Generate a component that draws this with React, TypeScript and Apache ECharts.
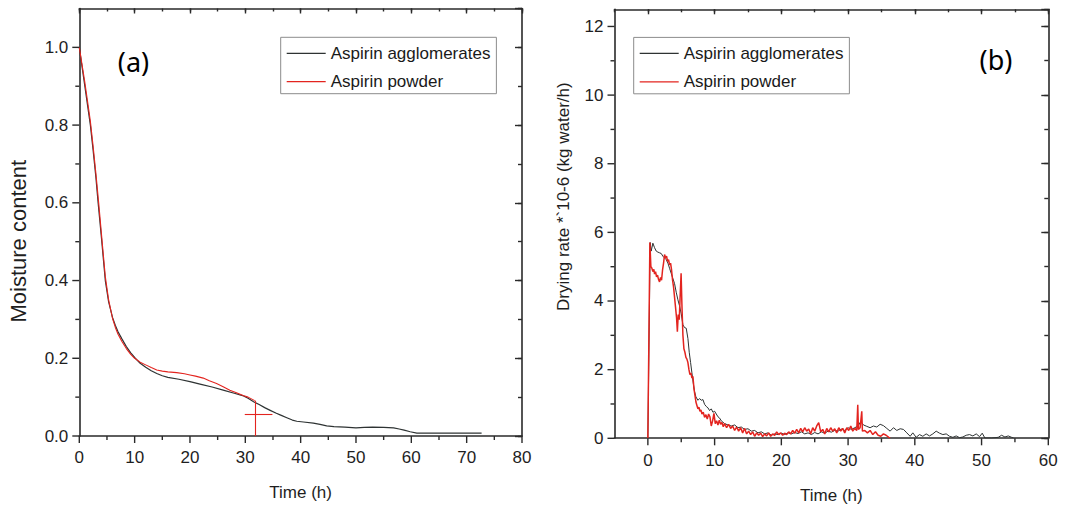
import React, { useEffect, useRef } from "react";
import * as echarts from "echarts";

// ---------- data ----------
const seriesNames = ["Aspirin agglomerates", "Aspirin powder"];

// (a) moisture content vs time (h)
const aggMoisture: [number, number][] = [
  [0, 1.0], [0.5, 0.95], [1, 0.9], [1.5, 0.85], [2, 0.8], [2.5, 0.735], [3, 0.665], [3.4, 0.6],
  [4, 0.51], [4.7, 0.4], [5.3, 0.345], [6, 0.305], [6.5, 0.285], [7, 0.268], [7.7, 0.25],
  [8.5, 0.23], [9.3, 0.214], [10, 0.202], [11, 0.187], [12, 0.177], [13, 0.168], [14, 0.161],
  [15, 0.155], [16, 0.151], [18, 0.146], [20, 0.14], [22, 0.133], [24, 0.126], [26, 0.118],
  [28, 0.11], [29.5, 0.104], [30.5, 0.097], [31.5, 0.088], [32.5, 0.081], [33.5, 0.073],
  [34.5, 0.066], [35.5, 0.059], [36.5, 0.053], [37.5, 0.047], [38.5, 0.041], [39.3, 0.038],
  [40.5, 0.036], [42.3, 0.033], [43.5, 0.03], [44.7, 0.026], [46, 0.024], [48, 0.023],
  [50, 0.021], [51.5, 0.022], [53, 0.023], [55, 0.022], [56.8, 0.021], [57.8, 0.018],
  [58.7, 0.015], [59.8, 0.011], [61, 0.0075], [62, 0.0075], [72.7, 0.0075],
];
const powderMoisture: [number, number][] = [
  [0, 1.0], [0.5, 0.955], [1, 0.91], [1.5, 0.86], [2, 0.81], [2.5, 0.745], [3, 0.675], [3.5, 0.6],
  [4, 0.52], [4.7, 0.41], [5.3, 0.35], [6, 0.303], [6.5, 0.28], [7, 0.262], [7.7, 0.243],
  [8.5, 0.225], [9.3, 0.21], [10, 0.2], [11, 0.19], [12, 0.183], [13, 0.176], [14, 0.17],
  [15, 0.167], [16, 0.165], [17.6, 0.163], [19, 0.16], [20, 0.157], [21, 0.154], [22.4, 0.149],
  [23.5, 0.142], [24.8, 0.135], [26, 0.127], [27.2, 0.118], [28.4, 0.111], [29.6, 0.104],
  [30.5, 0.1], [31.7, 0.091],
];
const powderMarkH: [number, number][] = [[29.9, 0.057], [34.9, 0.057]];
const powderMarkV: [number, number][] = [[31.8, 0.091], [31.8, 0]];

// (b) drying rate *10^-6 (kg water/h) vs time (h)
const aggRate: [number, number][] = [
  [0, 0], [0.1, 0], [0.35, 5.7], [0.5, 5.45], [0.75, 5.68], [1.0, 5.55], [1.25, 5.45], [1.5, 5.42],
  [1.75, 5.4], [2.0, 5.38], [2.25, 5.3], [2.5, 5.25], [2.75, 5.2], [3.0, 5.1], [3.25, 4.95],
  [3.5, 4.8], [3.75, 4.65], [4.0, 4.5], [4.25, 4.25], [4.5, 4.03], [4.75, 3.85], [5.0, 3.62],
  [5.25, 3.3], [5.5, 3.22], [5.75, 3.2], [6.0, 2.9], [6.2, 2.5], [6.4, 2.2], [6.6, 1.9], [6.8, 1.6],
  [7.0, 1.35], [7.2, 1.2], [7.5, 1.1], [7.75, 1.15], [8.0, 1.1], [8.25, 1.12], [8.5, 0.98],
  [8.75, 0.92], [9.0, 0.88], [9.25, 0.8], [9.5, 0.85], [9.75, 0.75], [10.0, 0.78], [10.25, 0.7],
  [10.5, 0.62], [10.75, 0.58], [11.0, 0.5], [11.5, 0.42], [12.0, 0.38], [12.5, 0.35], [13.0, 0.38],
  [13.5, 0.3], [14.0, 0.32], [14.5, 0.25], [15.0, 0.27], [15.5, 0.2], [16.0, 0.22], [16.5, 0.15],
  [17.0, 0.18], [17.5, 0.12], [18.0, 0.15], [18.5, 0.08], [19.0, 0.12], [19.5, 0.1], [20.0, 0.14],
  [20.5, 0.1], [21.0, 0.15], [21.5, 0.12], [22.0, 0.16], [22.5, 0.13], [23.0, 0.18], [23.5, 0.12],
  [24.0, 0.15], [24.5, 0.1], [25.0, 0.16], [25.5, 0.12], [26.0, 0.18], [26.5, 0.14], [27.0, 0.2],
  [27.5, 0.17], [28.0, 0.22], [28.5, 0.2], [29.0, 0.26], [29.5, 0.22], [30.0, 0.3], [30.5, 0.25],
  [31.0, 0.3], [31.5, 0.35], [31.9, 0.48], [32.3, 0.38], [32.8, 0.34], [33.3, 0.3], [33.8, 0.35],
  [34.3, 0.32], [34.8, 0.4], [35.3, 0.36], [35.8, 0.28], [36.3, 0.2], [36.8, 0.3], [37.3, 0.22],
  [37.8, 0.27], [38.3, 0.25], [38.8, 0.15], [39.3, 0.05], [39.7, 0.15], [40.2, 0.02], [40.7, 0.1],
  [41.2, 0.05], [41.7, 0.12], [42.2, 0.06], [42.7, 0.12], [43.2, 0.2], [43.7, 0.14], [44.2, 0.1],
  [44.7, 0.12], [45.2, 0.05], [45.7, 0.02], [46.2, 0.06], [46.7, 0.01], [47.2, 0.03], [47.7, 0.08],
  [48.2, 0.1], [48.7, 0.06], [49.2, 0.12], [49.7, 0.04], [50.1, 0.14], [50.5, 0.0], [51.5, 0.0],
  [52.5, 0.02], [53.0, 0.08], [53.5, 0.03], [54.0, 0.06], [54.5, 0.02], [54.8, 0.0],
];
const powderRate: [number, number][] = [
  [0, 0], [0.1, 0], [0.3, 5.7], [0.45, 5.0], [0.6, 4.95], [0.75, 4.85], [0.9, 4.92], [1.0, 4.78],
  [1.15, 4.85], [1.3, 4.7], [1.45, 4.75], [1.6, 4.62], [1.75, 4.55], [1.9, 4.68], [2.05, 4.6],
  [2.2, 4.9], [2.35, 5.1], [2.5, 5.35], [2.65, 5.25], [2.8, 5.3], [2.95, 5.15], [3.1, 5.2],
  [3.25, 5.05], [3.4, 5.1], [3.55, 4.9], [3.7, 4.6], [3.85, 4.4], [4.0, 4.1], [4.15, 3.8],
  [4.3, 3.5], [4.42, 3.1], [4.55, 3.6], [4.7, 3.45], [4.85, 4.2], [4.98, 4.8], [5.1, 3.9],
  [5.25, 3.0], [5.4, 2.6], [5.55, 2.5], [5.7, 2.35], [5.85, 2.3], [6.0, 2.2], [6.15, 2.0],
  [6.3, 1.85], [6.45, 1.9], [6.6, 1.75], [6.75, 1.8], [6.9, 1.45], [7.05, 1.25], [7.2, 1.05],
  [7.35, 0.95], [7.5, 0.85], [7.65, 0.9], [7.8, 0.78], [7.95, 0.82], [8.1, 0.7], [8.3, 0.75],
  [8.5, 0.6], [8.7, 0.68], [8.9, 0.55], [9.1, 0.7], [9.3, 0.62], [9.5, 0.35], [9.7, 0.5],
  [9.9, 0.72], [10.1, 0.42], [10.3, 0.5], [10.5, 0.38], [10.7, 0.52], [10.9, 0.4], [11.1, 0.45],
  [11.3, 0.33], [11.5, 0.42], [11.8, 0.3], [12.1, 0.4], [12.4, 0.28], [12.7, 0.35], [13.0, 0.22],
  [13.3, 0.32], [13.6, 0.2], [13.9, 0.3], [14.2, 0.15], [14.5, 0.28], [14.8, 0.12], [15.1, 0.2],
  [15.4, 0.1], [15.7, 0.18], [16.0, 0.05], [16.3, 0.15], [16.6, 0.08], [16.9, 0.14], [17.2, 0.04],
  [17.5, 0.12], [17.8, 0.06], [18.1, 0.15], [18.4, 0.05], [18.7, 0.12], [19.0, 0.08], [19.3, 0.18],
  [19.6, 0.1], [19.9, 0.15], [20.2, 0.08], [20.5, 0.14], [20.8, 0.1], [21.1, 0.18], [21.4, 0.12],
  [21.7, 0.22], [22.0, 0.14], [22.3, 0.25], [22.6, 0.15], [22.9, 0.28], [23.2, 0.18], [23.5, 0.3],
  [23.8, 0.2], [24.1, 0.26], [24.4, 0.12], [24.7, 0.3], [25.0, 0.2], [25.3, 0.35], [25.6, 0.45],
  [25.9, 0.18], [26.2, 0.25], [26.5, 0.12], [26.8, 0.28], [27.1, 0.18], [27.4, 0.3], [27.7, 0.2],
  [28.0, 0.27], [28.3, 0.15], [28.6, 0.3], [28.9, 0.2], [29.2, 0.28], [29.5, 0.15], [29.8, 0.3],
  [30.1, 0.22], [30.4, 0.35], [30.7, 0.2], [31.0, 0.28], [31.3, 0.22], [31.45, 0.97], [31.55, 0.25],
  [31.8, 0.3], [32.05, 0.78], [32.15, 0.2], [32.5, 0.22], [32.9, 0.15], [33.3, 0.22], [33.7, 0.1],
  [34.1, 0.18], [34.5, 0.08], [34.9, 0.05], [35.3, 0.12], [35.7, 0.08], [36.1, 0.02], [36.3, 0.0],
];

// axis ranges / tick steps
const aXRange = [0, 80], aXMajor = 10, aXMinor = 5;
const aYRange = [0, 1.1], aYMajor = 0.2, aYMinor = 0.1;
const bXRange = [-5, 60], bXMajorRange = [0, 60], bXMajor = 10, bXMinor = 5;
const bYRange = [0, 12.5], bYMajor = 2, bYMinor = 1;
// outward tick values (bottom / left frames)
const aXTickMajor = [0, 10, 20, 30, 40, 50, 60, 70, 80];
const aXTickMinor = [5, 15, 25, 35, 45, 55, 65, 75];
const aYTickMajor = [0, 0.2, 0.4, 0.6, 0.8, 1.0];
const aYTickMinor = [0.1, 0.3, 0.5, 0.7, 0.9];
const bXTickMajor = [0, 10, 20, 30, 40, 50, 60];
const bXTickMinor = [5, 15, 25, 35, 45, 55];
const bYTickMajor = [0, 2, 4, 6, 8, 10, 12];
const bYTickMinor = [1, 3, 5, 7, 9, 11];

// ---------- styles ----------
const SANS = "'Liberation Sans', Arial, sans-serif";
const AXIS_COLOR = "#2a2a2a";
const TEXT_COLOR = "#1e1e1e";
const BLACK = "#2e3333";
const RED = "#e3241f";
const MAJOR_LEN = 7;
const MINOR_LEN = 4;

// grid geometry (layout)
const A_GRID = { left: 79.3, top: 8.5, width: 442.7, height: 427.5 };
const B_GRID = { left: 614.5, top: 9.3, width: 433.8, height: 429 };

const tickStyle = { color: AXIS_COLOR, width: 1.4 };
const noLabel = { show: false };

type AxOpts = {
  line?: boolean;
  tickLen: number;
  inside: boolean;
  showTick?: boolean;
  label?: any;
  name?: string;
  nameGap?: number;
  nameStyle?: any;
};

function axis(gridIndex: number, range: number[], interval: number, position: string, opts: AxOpts) {
  return {
    type: "value",
    gridIndex,
    min: range[0],
    max: range[1],
    interval,
    position,
    splitLine: { show: false },
    axisLine: { show: !!opts.line, onZero: false, lineStyle: { color: AXIS_COLOR, width: 1.6 } },
    axisTick: { show: opts.showTick !== false, inside: opts.inside, length: opts.tickLen, lineStyle: tickStyle },
    axisLabel: opts.label ?? noLabel,
    name: opts.name ?? "",
    nameLocation: "middle",
    nameGap: opts.nameGap ?? 15,
    nameTextStyle: opts.nameStyle ?? {},
  };
}

function labelStyle(fmt: (v: number) => string, hide: (v: number) => boolean, margin: number) {
  return {
    show: true,
    margin,
    fontFamily: SANS,
    fontSize: 17,
    color: TEXT_COLOR,
    formatter: (v: number) => (hide(v) ? "" : fmt(v)),
  };
}

// outward ticks for the bottom and left frames, placed along the same linear scales as the axes
function frameTicks(
  g: { left: number; top: number; width: number; height: number },
  xRange: number[],
  yRange: number[],
  xMaj: number[],
  xMin: number[],
  yMaj: number[],
  yMin: number[]
) {
  const sx = (v: number) => g.left + ((v - xRange[0]) / (xRange[1] - xRange[0])) * g.width;
  const sy = (v: number) => g.top + g.height - ((v - yRange[0]) / (yRange[1] - yRange[0])) * g.height;
  const bottom = g.top + g.height;
  const left = g.left;
  const mk = (x1: number, y1: number, x2: number, y2: number) => ({
    type: "line",
    silent: true,
    z: 100,
    shape: { x1, y1, x2, y2 },
    style: { stroke: AXIS_COLOR, lineWidth: 1.4 },
  });
  return [
    ...xMaj.map((v) => mk(sx(v), bottom, sx(v), bottom + MAJOR_LEN)),
    ...xMin.map((v) => mk(sx(v), bottom, sx(v), bottom + MINOR_LEN)),
    ...yMaj.map((v) => mk(left, sy(v), left - MAJOR_LEN, sy(v))),
    ...yMin.map((v) => mk(left, sy(v), left - MINOR_LEN, sy(v))),
  ];
}

const legendBase = {
  orient: "vertical",
  data: seriesNames,
  icon: "rect",
  borderColor: "#8c8c8c",
  borderWidth: 1,
  padding: [5, 6, 1, 6],
  itemWidth: 39,
  itemHeight: 1.2,
  itemGap: 6.4,
  selectedMode: false,
  textStyle: { fontFamily: SANS, fontSize: 17, color: "#1a1a1a", lineHeight: 22 },
};

export default function App() {
  const ref = useRef<HTMLDivElement>(null);
  useEffect(() => {
    if (!ref.current) return;
    const chart = echarts.init(ref.current, undefined, { renderer: "svg" });
    const intFmt = (v: number) => String(Math.round(v));
    const dec1 = (v: number) => v.toFixed(1);
    const xNameStyle = { fontFamily: SANS, fontSize: 17, color: TEXT_COLOR };

    const zeroOffset = ((bXMajorRange[0] - bXRange[0]) / (bXRange[1] - bXRange[0])) * B_GRID.width;

    const xAxes = [
      // grid 0 : panel (a)  -> indexes 0,1,2
      axis(0, aXRange, aXMajor, "bottom", {
        line: true, tickLen: MAJOR_LEN, inside: false, showTick: false,
        label: labelStyle(intFmt, () => false, 13),
        name: "Time (h)", nameGap: 48, nameStyle: xNameStyle,
      }),
      axis(0, aXRange, aXMajor, "top", { line: true, tickLen: 5, inside: true }),
      axis(0, aXRange, aXMinor, "top", { tickLen: 3, inside: true }),
      // grid 1 : panel (b), full range -5..60  -> indexes 3,4
      axis(1, bXRange, bXMinor, "bottom", {
        line: true, tickLen: MINOR_LEN, inside: false, showTick: false,
        name: "Time (h)", nameGap: 49, nameStyle: xNameStyle,
      }),
      axis(1, bXRange, bXMinor, "top", { line: true, tickLen: 3, inside: true }),
      // grid 2 : panel (b) overlay 0..60 for labels + top major ticks -> indexes 5,6
      axis(2, bXMajorRange, bXMajor, "bottom", {
        tickLen: MAJOR_LEN, inside: false, showTick: false,
        label: labelStyle(intFmt, () => false, 14),
      }),
      axis(2, bXMajorRange, bXMajor, "top", { tickLen: 5, inside: true }),
    ];
    const yAxes = [
      // grid 0 -> indexes 0,1,2
      axis(0, aYRange, aYMajor, "left", {
        line: true, tickLen: MAJOR_LEN, inside: false, showTick: false,
        label: labelStyle(dec1, (v) => v > 1.05, 11),
        name: "Moisture content", nameGap: 50,
        nameStyle: { fontFamily: SANS, fontSize: 22, color: TEXT_COLOR, padding: [0, 38, 0, 0] },
      }),
      axis(0, aYRange, aYMajor, "right", { line: true, tickLen: MAJOR_LEN, inside: true }),
      axis(0, aYRange, aYMinor, "right", { tickLen: MINOR_LEN, inside: true }),
      // grid 1 -> indexes 3,4,5
      axis(1, bYRange, bYMajor, "left", {
        line: true, tickLen: MAJOR_LEN, inside: false, showTick: false,
        label: labelStyle(intFmt, (v) => v > 12.2, 11),
        name: "Drying rate *`10-6 (kg water/h)", nameGap: 43,
        nameStyle: { fontFamily: SANS, fontSize: 17, color: TEXT_COLOR, padding: [0, 0, 0, 54] },
      }),
      axis(1, bYRange, bYMajor, "right", { line: true, tickLen: MAJOR_LEN, inside: true }),
      axis(1, bYRange, bYMinor, "right", { tickLen: MINOR_LEN, inside: true }),
      // grid 2 (overlay, hidden) -> index 6
      { type: "value", gridIndex: 2, min: bYRange[0], max: bYRange[1], interval: bYMajor, show: false },
    ];

    const titleGraphics = [
      {
        type: "text",
        x: 133.5,
        y: 61,
        style: { text: "(a)", font: "27px 'Noto Sans', 'Open Sans', sans-serif", fill: "#000", align: "center", verticalAlign: "middle" },
      },
      {
        type: "text",
        x: 996,
        y: 59,
        style: { text: "(b)", font: "27px 'Noto Sans', 'Open Sans', sans-serif", fill: "#000", align: "center", verticalAlign: "middle" },
      },
    ];

    const tickGraphics = [
      ...frameTicks(A_GRID, aXRange, aYRange, aXTickMajor, aXTickMinor, aYTickMajor, aYTickMinor),
      ...frameTicks(B_GRID, bXRange, bYRange, bXTickMajor, bXTickMinor, bYTickMajor, bYTickMinor),
    ];

    chart.setOption({
      animation: false,
      backgroundColor: "#ffffff",
      grid: [
        { ...A_GRID, containLabel: false },
        { ...B_GRID, containLabel: false },
        { left: B_GRID.left + zeroOffset, top: B_GRID.top, width: B_GRID.width - zeroOffset, height: B_GRID.height, containLabel: false },
      ],
      xAxis: xAxes,
      yAxis: yAxes,
      legend: [
        { ...legendBase, left: 280.7, top: 37.3 },
        { ...legendBase, left: 633.7, top: 37.4 },
      ],
      graphic: [...titleGraphics, ...tickGraphics],
      series: [
        {
          name: seriesNames[0],
          type: "line",
          xAxisIndex: 0,
          yAxisIndex: 0,
          data: aggMoisture,
          symbol: "none",
          lineStyle: { color: BLACK, width: 1.2 },
          itemStyle: { color: BLACK },
        },
        {
          name: seriesNames[1],
          type: "line",
          xAxisIndex: 0,
          yAxisIndex: 0,
          data: powderMoisture,
          symbol: "none",
          lineStyle: { color: RED, width: 1.1 },
          itemStyle: { color: RED },
          markLine: {
            silent: true,
            symbol: "none",
            label: { show: false },
            lineStyle: { color: RED, width: 1.1, type: "solid" },
            data: [
              [{ coord: powderMarkH[0] }, { coord: powderMarkH[1] }],
              [{ coord: powderMarkV[0] }, { coord: powderMarkV[1] }],
            ],
          },
        },
        {
          name: seriesNames[0],
          type: "line",
          xAxisIndex: 3,
          yAxisIndex: 3,
          data: aggRate,
          symbol: "none",
          lineStyle: { color: BLACK, width: 1 },
          itemStyle: { color: BLACK },
        },
        {
          name: seriesNames[1],
          type: "line",
          xAxisIndex: 3,
          yAxisIndex: 3,
          data: powderRate,
          symbol: "none",
          lineStyle: { color: RED, width: 1.5 },
          itemStyle: { color: RED },
        },
      ],
    });

    return () => chart.dispose();
  }, []);

  return (
    <div
      ref={ref}
      style={{ position: "fixed", left: 0, top: 0, width: 1069, height: 509, background: "#fff" }}
    />
  );
}
